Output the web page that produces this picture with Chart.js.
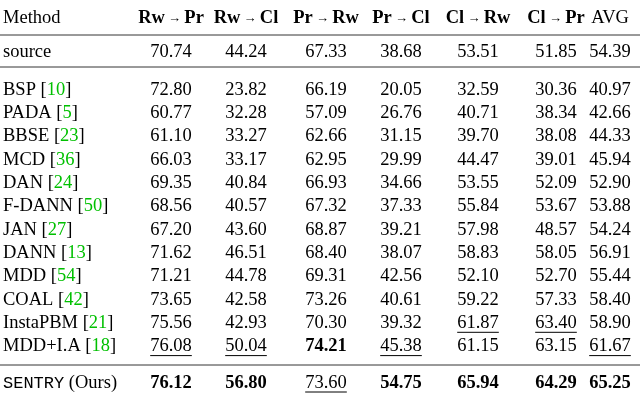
<!DOCTYPE html>
<html><head><meta charset="utf-8">
<script src="https://cdn.jsdelivr.net/npm/chart.js@4"></script>
<style>html,body{margin:0;padding:0;background:#fff}#c{display:block}</style>
</head><body>
<div style="width:640px;height:401px"><canvas id="c"></canvas></div>
<script>
const columns = ["Rw → Pr","Rw → Cl","Pr → Rw","Pr → Cl","Cl → Rw","Cl → Pr","AVG"];
const methods = ["source","BSP","PADA","BBSE","MCD","DAN","F-DANN","JAN","DANN","MDD","COAL","InstaPBM","MDD+I.A","SENTRY"];
const refs = ["", "10","5","23","36","24","50","27","13","54","42","21","18",""];
const values = [
 [70.74,44.24,67.33,38.68,53.51,51.85,54.39],
 [72.80,23.82,66.19,20.05,32.59,30.36,40.97],
 [60.77,32.28,57.09,26.76,40.71,38.34,42.66],
 [61.10,33.27,62.66,31.15,39.70,38.08,44.33],
 [66.03,33.17,62.95,29.99,44.47,39.01,45.94],
 [69.35,40.84,66.93,34.66,53.55,52.09,52.90],
 [68.56,40.57,67.32,37.33,55.84,53.67,53.88],
 [67.20,43.60,68.87,39.21,57.98,48.57,54.24],
 [71.62,46.51,68.40,38.07,58.83,58.05,56.91],
 [71.21,44.78,69.31,42.56,52.10,52.70,55.44],
 [73.65,42.58,73.26,40.61,59.22,57.33,58.40],
 [75.56,42.93,70.30,39.32,61.87,63.40,58.90],
 [76.08,50.04,74.21,45.38,61.15,63.15,61.67],
 [76.12,56.80,73.60,54.75,65.94,64.29,65.25]
];
// layout (not data)
const colX = [171,246,326,401,478,556,610];
const rowY = [52,90,113.3,136.6,160,183.3,206.6,230,253.3,276.6,300,323.3,346.6,383];
const headerY = 18;
const rules = [[35,0.8],[67,0.8],[365,0.8]];

const serif = '"Liberation Serif", "DejaVu Serif", serif';
const FS = 18.5;

const rank = columns.map((_, j) => {
  const col = values.map(r => r[j]);
  const sorted = [...col].sort((a,b)=>b-a);
  return col.map(v => v === sorted[0] ? 1 : (v === sorted[1] ? 2 : 0));
});

const tablePlugin = {
  id: 'table',
  afterDraw(chart) {
    const ctx = chart.ctx, xs = chart.scales.x, ys = chart.scales.y;
    ctx.save();
    ctx.fillStyle = '#000'; ctx.strokeStyle = '#000';
    ctx.textBaseline = 'middle';
    for (const [y, w] of rules) {
      ctx.lineWidth = w;
      ctx.beginPath(); ctx.moveTo(xs.getPixelForValue(0), ys.getPixelForValue(y));
      ctx.lineTo(xs.getPixelForValue(640), ys.getPixelForValue(y)); ctx.stroke();
    }
    const hy = ys.getPixelForValue(headerY);
    ctx.font = `${FS}px ${serif}`; ctx.textAlign = 'left';
    ctx.fillText('Method', xs.getPixelForValue(3), hy);
    columns.forEach((c, j) => {
      const cx = xs.getPixelForValue(colX[j]);
      if (c === 'AVG') { ctx.font = `${FS}px ${serif}`; ctx.textAlign='center'; ctx.fillText(c, cx, hy); return; }
      const [a, b] = c.split(' → ');
      ctx.font = `bold ${FS}px ${serif}`;
      const wa = ctx.measureText(a).width, wb = ctx.measureText(b).width;
      ctx.font = `13px ${serif}`; const wr = ctx.measureText(' → ').width;
      let x = cx - (wa + wr + wb) / 2;
      ctx.textAlign = 'left';
      ctx.font = `bold ${FS}px ${serif}`; ctx.fillText(a, x, hy); x += wa;
      ctx.font = `13px ${serif}`; ctx.fillText(' → ', x, hy + 1); x += wr;
      ctx.font = `bold ${FS}px ${serif}`; ctx.fillText(b, x, hy);
    });
    methods.forEach((m, i) => {
      const y = ys.getPixelForValue(rowY[i]);
      let x = xs.getPixelForValue(3);
      ctx.textAlign = 'left';
      if (m === 'SENTRY') {
        ctx.font = `17px "Liberation Mono", monospace`; ctx.fillText(m, x, y);
        x += ctx.measureText(m).width;
        ctx.font = `${FS}px ${serif}`; ctx.fillText(' (Ours)', x, y);
      } else {
        ctx.font = `${FS}px ${serif}`;
        ctx.fillText(m, x, y); x += ctx.measureText(m).width;
        if (refs[i]) {
          ctx.fillText(' [', x, y); x += ctx.measureText(' [').width;
          ctx.fillStyle = '#00c000'; ctx.fillText(refs[i], x, y); x += ctx.measureText(refs[i]).width;
          ctx.fillStyle = '#000'; ctx.fillText(']', x, y);
        }
      }
      values[i].forEach((v, j) => {
        const r = rank[j][i];
        ctx.font = (r === 1 ? 'bold ' : '') + `${FS}px ${serif}`;
        ctx.textAlign = 'center';
        const cx = xs.getPixelForValue(colX[j]);
        const t = v.toFixed(2);
        ctx.fillText(t, cx, y);
        if (r === 2) {
          const w = ctx.measureText(t).width;
          ctx.lineWidth = 1; ctx.beginPath();
          ctx.moveTo(cx - w/2, y + 9); ctx.lineTo(cx + w/2, y + 9); ctx.stroke();
        }
      });
    });
    ctx.restore();
  }
};

new Chart(document.getElementById('c'), {
  type: 'scatter',
  data: { datasets: [{ data: values.flatMap((r,i)=>r.map((v,j)=>({x:colX[j], y:rowY[i]}))), pointRadius: 0 }] },
  options: {
    responsive: true, maintainAspectRatio: false, animation: false,
    layout: { padding: 0 },
    plugins: { legend: { display: false }, tooltip: { enabled: false } },
    scales: {
      x: { type: 'linear', min: 0, max: 640, display: false },
      y: { type: 'linear', min: 0, max: 401, reverse: true, display: false }
    }
  },
  plugins: [tablePlugin]
});
</script>
</body></html>
